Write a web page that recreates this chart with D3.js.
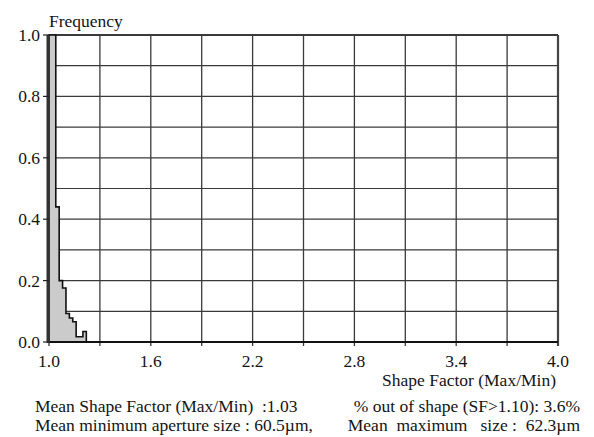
<!DOCTYPE html>
<html>
<head>
<meta charset="utf-8">
<script src="https://cdn.jsdelivr.net/npm/d3@7"></script>
</head>
<body style="margin:0">
<svg id="chart" width="594" height="437"></svg>
<script>
// Histogram of shape factor (Max/Min), bin width 0.02
const binStarts = [1.00, 1.02, 1.04, 1.06, 1.08, 1.10, 1.12, 1.14, 1.16, 1.18, 1.20];
const binWidth = 0.02;
const frequencies = [1.0, 1.0, 0.44, 0.20, 0.176, 0.093, 0.078, 0.066, 0.017, 0.017, 0.034];

const xTickLabels = [1.0, 1.6, 2.2, 2.8, 3.4, 4.0];
const xGridValues = [1.3, 1.6, 1.9, 2.2, 2.5, 2.8, 3.1, 3.4, 3.7, 4.0];
const yTickLabels = [0.0, 0.2, 0.4, 0.6, 0.8, 1.0];
const yGridValues = [0.1, 0.2, 0.3, 0.4, 0.5, 0.6, 0.7, 0.8, 0.9, 1.0];

const yTitle = "Frequency";
const xTitle = "Shape Factor (Max/Min)";
const summaryLeft = ["Mean Shape Factor (Max/Min)  :1.03", "Mean minimum aperture size : 60.5\u00b5m,"];
const summaryRight = ["% out of shape (SF>1.10): 3.6%", "Mean  maximum   size :  62.3\u00b5m"];

const svg = d3.select("#chart");
const x = d3.scaleLinear().domain([1, 4]).range([49, 558]);
const y = d3.scaleLinear().domain([0, 1]).range([342, 35]);

// grid
const grid = svg.append("g");
grid.selectAll("line.v").data(xGridValues).join("line")
  .attr("class", "v")
  .attr("x1", d => x(d)).attr("x2", d => x(d))
  .attr("y1", y(1)).attr("y2", y(0) + 4)
  .attr("stroke-width", d => d === 4 ? 2.2 : 1.3)
  .attr("stroke", d => d === 4 ? "#444" : "#3a3a3a");
grid.selectAll("line.h").data(yGridValues).join("line")
  .attr("class", "h")
  .attr("x1", x(1)).attr("x2", x(4))
  .attr("y1", d => y(d)).attr("y2", d => y(d))
  .attr("stroke", "#3a3a3a")
  .attr("stroke-width", d => d === 1 ? 2 : 1.2);

// histogram as a step area
const pts = binStarts.map((s, i) => ({ v: s, f: frequencies[i] }));
pts.push({ v: binStarts[binStarts.length - 1] + binWidth, f: frequencies[frequencies.length - 1] });
const area = d3.area()
  .x(d => x(d.v))
  .y0(y(0))
  .y1(d => y(d.f))
  .curve(d3.curveStepAfter);
svg.append("path")
  .datum(pts)
  .attr("d", area)
  .attr("fill", "#cbcbcb")
  .attr("stroke", "#111")
  .attr("stroke-width", 1.6);

// axis lines
svg.append("line")
  .attr("x1", x(1)).attr("x2", x(4))
  .attr("y1", y(0)).attr("y2", y(0))
  .attr("stroke", "#111").attr("stroke-width", 2);
svg.append("line")
  .attr("x1", x(1) - 1).attr("x2", x(1) - 1)
  .attr("y1", y(0) + 1).attr("y2", y(1))
  .attr("stroke", "#333").attr("stroke-width", 3);

// y ticks
svg.selectAll("line.yt").data(yTickLabels).join("line")
  .attr("class", "yt")
  .attr("x1", x(1) - 6).attr("x2", x(1))
  .attr("y1", d => y(d)).attr("y2", d => y(d))
  .attr("stroke", "#222").attr("stroke-width", 1.2);
// x tick at origin
svg.selectAll("line.xt").data([1.0]).join("line")
  .attr("class", "xt")
  .attr("x1", d => x(d)).attr("x2", d => x(d))
  .attr("y1", y(0)).attr("y2", y(0) + 4)
  .attr("stroke", "#222").attr("stroke-width", 1.2);

// all text: serif face
const texts = svg.append("g");
texts.selectAll("text.yl").data(yTickLabels).join("text")
  .attr("class", "yl")
  .attr("x", 40).attr("y", d => y(d) + 6)
  .attr("text-anchor", "end")
  .text(d => d3.format(".1f")(d));
texts.selectAll("text.xl").data(xTickLabels).join("text")
  .attr("class", "xl")
  .attr("x", d => x(d)).attr("y", 367)
  .attr("text-anchor", "middle")
  .text(d => d3.format(".1f")(d));
texts.append("text").attr("x", 49).attr("y", 27).text(yTitle);
texts.append("text").attr("x", 556).attr("y", 386).attr("text-anchor", "end").text(xTitle);
texts.selectAll("text.sl").data(summaryLeft).join("text")
  .attr("class", "sl")
  .attr("x", 35).attr("y", (d, i) => 412 + i * 19)
  .text(d => d);
texts.selectAll("text.sr").data(summaryRight).join("text")
  .attr("class", "sr")
  .attr("x", 580).attr("y", (d, i) => 412 + i * 19)
  .attr("text-anchor", "end")
  .text(d => d);
texts.selectAll("text")
  .style("font-family", '"Liberation Serif"')
  .style("font-size", "17.5px")
  .style("white-space", "pre")
  .attr("fill", "#141414");
</script>
</body>
</html>
